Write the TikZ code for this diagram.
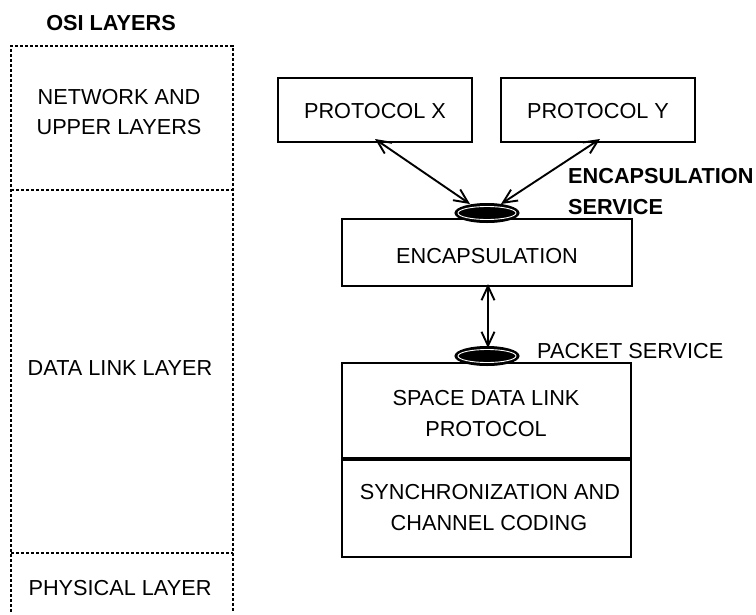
\documentclass[tikz,border=0pt]{standalone}
\usepackage{fontspec}
\setmainfont{Liberation Sans}
\usetikzlibrary{arrows.meta,shapes.geometric}
\begin{document}
\begin{tikzpicture}[x=1pt,y=-1pt,
  box/.style={draw,line width=1.9pt,inner sep=0pt},
  lbl/.style={font=\fontsize{21.7}{30}\selectfont,anchor=base,inner sep=0pt},
  blbl/.style={font=\fontsize{21.7}{30}\selectfont\bfseries,anchor=base,inner sep=0pt},
  dots/.style={line width=2.9pt,dash pattern=on 3.2pt off 1.8pt},
  svc/.style={ellipse,fill=black,draw=black,line width=1pt,minimum width=64pt,minimum height=19pt,inner sep=0pt},
  arr/.style={line width=1.9pt,{Straight Barb[length=14pt,width=13pt]}-{Straight Barb[length=14pt,width=13pt]}},
]
\useasboundingbox (0,0) rectangle (756,614);

% OSI layers column
\node[blbl] (osi) at (111,30) {OSI LAYERS};
\draw[dots] (11,612) -- (11,46) -- (233,46) -- (233,612);
\draw[dots] (11,190) -- (233,190);
\draw[dots] (11,553) -- (233,553);
\node[lbl] (net1) at (119,104) {NETWORK AND};
\node[lbl] (net2) at (119,134) {UPPER LAYERS};
\node[lbl] (dll) at (120,375) {DATA LINK LAYER};
\node[lbl] (phy) at (120,595) {PHYSICAL LAYER};

% protocol boxes
\node[box,minimum width=194pt,minimum height=64pt] (px) at (375,110) {};
\node[lbl] (pxt) at (375,118) {PROTOCOL X};
\node[box,minimum width=194pt,minimum height=64pt] (py) at (598,110) {};
\node[lbl] (pyt) at (598,118) {PROTOCOL Y};

% encapsulation
\node[box,minimum width=290pt,minimum height=67pt] (enc) at (487,252.5) {};
\node[lbl] (enct) at (487,263) {ENCAPSULATION};

% space data link + sync
\node[box,minimum width=289pt,minimum height=95pt] (sdl) at (486.5,410.5) {};
\node[box,minimum width=289pt,minimum height=99pt] (sync) at (486.5,507.5) {};
\draw[line width=4pt] (sdl.south west) -- (sdl.south east);
\node[lbl] (sdl1) at (486,405) {SPACE DATA LINK};
\node[lbl] (sdl2) at (486,436) {PROTOCOL};
\node[lbl] (syn1) at (490,499) {SYNCHRONIZATION AND};
\node[lbl] (syn2) at (489,530) {CHANNEL CODING};

% service access points
\node[svc] (e1) at (487,213) {};
\draw[white,line width=0.9pt] (e1.center) ellipse [x radius=29, y radius=6.5];
\node[svc] (e2) at (487,356) {};
\draw[white,line width=0.9pt] (e2.center) ellipse [x radius=29, y radius=6.5];

\node[blbl,anchor=base west] (es1) at (568,183) {ENCAPSULATION};
\node[blbl,anchor=base west] (es2) at (568,214) {SERVICE};
\node[lbl,anchor=base west] (ps) at (537,358) {PACKET SERVICE};

% arrows
\coordinate (ax1) at (375,139);
\coordinate (ax2) at (470,204);
\coordinate (ay1) at (600,139);
\coordinate (ay2) at (501,204);
\draw[arr] (ax1) -- (ax2);
\draw[arr] (ay1) -- (ay2);
\coordinate (v1) at (488,284);
\coordinate (v2) at (488,348);
\draw[arr] (v1) -- (v2);
\end{tikzpicture}
\end{document}
